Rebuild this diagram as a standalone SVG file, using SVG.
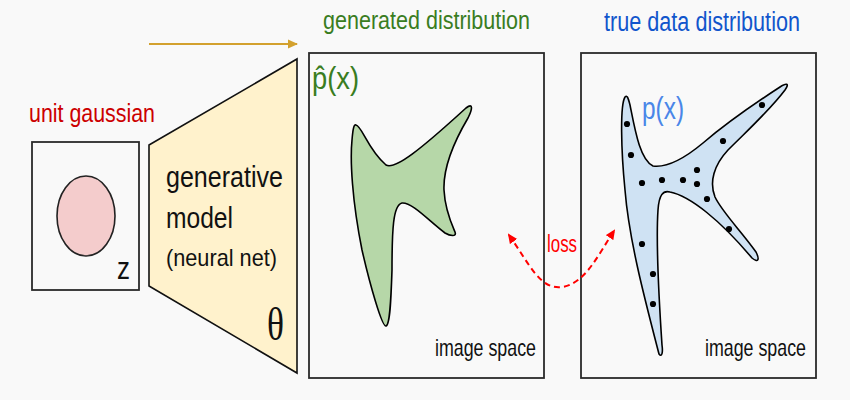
<svg xmlns="http://www.w3.org/2000/svg" width="850" height="400" viewBox="0 0 850 400">
<style>
text{font-family:"Liberation Sans",Arial,sans-serif}
.box{fill:#f9f9f9;stroke:#2a2a2a;stroke-width:1.8}
.blk{fill:#111}
.lbl{font-size:24px;fill:#111}
.dot{fill:#000}
.shape{stroke:#000;stroke-width:1.6}
</style>
<defs>
<marker id="gold" viewBox="0 0 10 10" refX="9" refY="5" markerWidth="10" markerHeight="10" markerUnits="userSpaceOnUse" orient="auto"><path d="M0,0.5 L10,5 L0,9.5 Z" fill="#d3a12e"/></marker>
<marker id="red" viewBox="0 0 10 10" refX="8" refY="5" markerWidth="10" markerHeight="10" markerUnits="userSpaceOnUse" orient="auto-start-reverse"><path d="M0,0.5 L10,5 L0,9.5 Z" fill="#ff0000"/></marker>
</defs>
<rect width="850" height="400" fill="#f9f9f9"/>

<g id="latent">
<text x="29" y="122" font-size="25" fill="#cc0000" textLength="126" lengthAdjust="spacingAndGlyphs">unit gaussian</text>
<rect class="box" x="32" y="142" width="107" height="148"/>
<ellipse cx="86" cy="216" rx="29" ry="40" fill="#f4cccc" stroke="#222" stroke-width="1.6"/>
<text x="117" y="279" font-size="31" class="blk" textLength="13" lengthAdjust="spacingAndGlyphs">z</text>
</g>

<g id="generator">
<polygon points="149,145 297,59 297,373 149,286" fill="#fff2cc" stroke="#111" stroke-width="1.6"/>
<text x="166" y="187" font-size="29" class="blk" textLength="117" lengthAdjust="spacingAndGlyphs">generative</text>
<text x="166" y="228" font-size="30" class="blk" textLength="67" lengthAdjust="spacingAndGlyphs">model</text>
<text x="166" y="266" font-size="24" class="blk" textLength="111" lengthAdjust="spacingAndGlyphs">(neural net)</text>
<text x="267" y="340" font-size="47" class="blk" style="font-family:'Liberation Serif',serif" textLength="17" lengthAdjust="spacingAndGlyphs">θ</text>
</g>

<g id="generated">
<text x="323" y="29" font-size="26" fill="#3a7d1f" textLength="207" lengthAdjust="spacingAndGlyphs">generated distribution</text>
<rect class="box" x="309" y="53" width="235" height="325"/>
<text x="312" y="89" font-size="31" fill="#3a7d1f" textLength="47" lengthAdjust="spacingAndGlyphs">p̂(x)</text>
<path class="shape" fill="#b6d7a8" d="M356,125 C362,126 368,150 386,165 C395,170 420,150 466,108 C474,102 472,110 468,118 C455,140 443,165 444,190 C445,210 452,225 455,232 C457,237 450,236 445,233 C430,222 412,202 402,203 C393,205 392,230 392,270 C391,300 390,325 386,326 C382,327 370,285 362,250 C352,200 350,160 352,140 C353,128 354,124 356,125 Z"/>
<text x="435" y="356" class="lbl" textLength="101" lengthAdjust="spacingAndGlyphs">image space</text>
</g>

<g id="true-data">
<text x="604" y="31" font-size="27" fill="#1155cc" textLength="196" lengthAdjust="spacingAndGlyphs">true data distribution</text>
<rect class="box" x="581" y="53" width="235" height="325"/>
<path class="shape" fill="#cfe2f3" d="M625,97 C620,105 621,150 625,190 C629,240 645,300 659,354 C662,358 663,352 662,345 C659,300 656,240 658,210 C659,195 663,190 670,192 C690,196 720,220 752,258 C758,263 760,260 756,252 C742,232 722,212 715,197 C709,182 714,165 728,150 C750,128 770,110 785,90 C790,83 786,83 780,87 C760,100 730,120 703,143 C685,158 668,168 653,166 C640,160 635,130 630,105 C628,97 627,95 625,97 Z"/>
<text x="642" y="119" font-size="32" fill="#4a86e8" textLength="42" lengthAdjust="spacingAndGlyphs">p(x)</text>
<g class="dot">
<circle cx="627" cy="124" r="3.1"/><circle cx="631" cy="155" r="3.1"/><circle cx="642" cy="183" r="3.1"/>
<circle cx="662" cy="180" r="3.1"/><circle cx="683" cy="180" r="3.1"/><circle cx="697" cy="170" r="3.1"/>
<circle cx="697" cy="184" r="3.1"/><circle cx="723" cy="141" r="3.1"/><circle cx="762" cy="105" r="3.1"/>
<circle cx="707" cy="199" r="3.1"/><circle cx="729" cy="229" r="3.1"/><circle cx="642" cy="244" r="3.1"/>
<circle cx="653" cy="274" r="3.1"/><circle cx="653" cy="304" r="3.1"/>
</g>
<text x="705" y="356" class="lbl" textLength="101" lengthAdjust="spacingAndGlyphs">image space</text>
</g>

<g id="connectors">
<line x1="149" y1="44" x2="297" y2="44" stroke="#d3a12e" stroke-width="2.2" marker-end="url(#gold)"/>
<path d="M509,235 C530,265 540,290 562,287 C585,284 598,255 614,231" fill="none" stroke="#ff0000" stroke-width="2" stroke-dasharray="6 4" marker-start="url(#red)" marker-end="url(#red)"/>
<text x="547" y="252" font-size="23" fill="#ff0000" textLength="30" lengthAdjust="spacingAndGlyphs">loss</text>
</g>
</svg>
